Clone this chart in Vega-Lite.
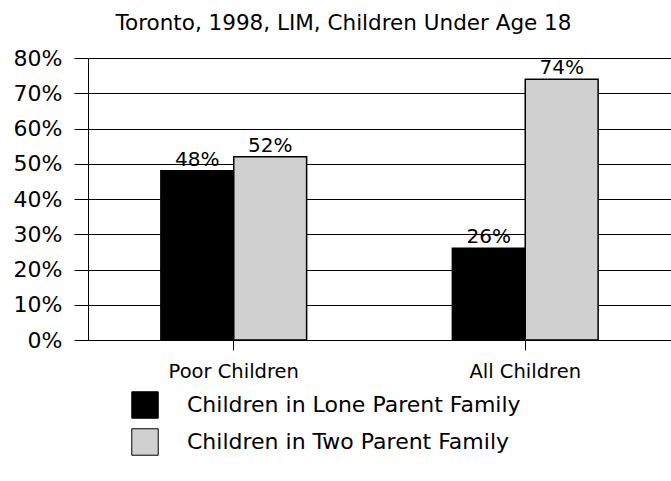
{
  "$schema": "https://vega.github.io/schema/vega-lite/v6.json",
  "autosize": {"type": "none"},
  "width": 583,
  "height": 282,
  "padding": {"left": 88, "top": 58, "right": 0, "bottom": 141},
  "background": "white",
  "title": {
    "text": "Toronto, 1998, LIM, Children Under Age 18",
    "font": "DejaVu Sans",
    "fontSize": 21.5,
    "fontWeight": "normal",
    "color": "black",
    "anchor": "middle",
    "dx": -36,
    "offset": 13
  },
  "config": {
    "view": {"stroke": null},
    "font": "DejaVu Sans"
  },
  "data": {
    "values": [
      {"group": "Poor Children", "family": "Children in Lone Parent Family", "value": 0.48},
      {"group": "Poor Children", "family": "Children in Two Parent Family", "value": 0.52},
      {"group": "All Children", "family": "Children in Lone Parent Family", "value": 0.26},
      {"group": "All Children", "family": "Children in Two Parent Family", "value": 0.74}
    ]
  },
  "encoding": {
    "x": {
      "field": "group",
      "type": "nominal",
      "sort": ["Poor Children", "All Children"],
      "scale": {"paddingInner": 0.5, "paddingOuter": 0.25},
      "axis": {
        "title": null,
        "labelAngle": 0,
        "labelFont": "DejaVu Sans",
        "labelFontSize": 19.5,
        "labelColor": "black",
        "labelPadding": 12,
        "tickColor": "black",
        "tickSize": 10,
        "domainColor": "black",
        "domain": true
      }
    },
    "xOffset": {
      "field": "family",
      "type": "nominal",
      "sort": ["Children in Lone Parent Family", "Children in Two Parent Family"]
    },
    "y": {
      "field": "value",
      "type": "quantitative",
      "scale": {"domain": [0, 0.8], "nice": false},
      "axis": {
        "title": null,
        "format": ".0%",
        "values": [0, 0.1, 0.2, 0.3, 0.4, 0.5, 0.6, 0.7, 0.8],
        "labelFont": "DejaVu Sans",
        "labelFontSize": 22,
        "labelColor": "black",
        "labelPadding": 12,
        "tickColor": "black",
        "tickSize": 14,
        "grid": true,
        "gridColor": "black",
        "gridOpacity": 1,
        "gridWidth": 1,
        "domainColor": "black"
      }
    }
  },
  "layer": [
    {
      "mark": {"type": "bar", "stroke": "black", "strokeWidth": 1.5},
      "encoding": {
        "color": {
          "field": "family",
          "type": "nominal",
          "scale": {
            "domain": ["Children in Lone Parent Family", "Children in Two Parent Family"],
            "range": ["#000000", "#d0d0d0"]
          },
          "legend": {
            "title": null,
            "orient": "none",
            "legendX": 43,
            "legendY": 333,
            "symbolType": "square",
            "symbolSize": 700,
            "symbolStrokeColor": "black",
            "symbolStrokeWidth": 1,
            "symbolOpacity": 1,
            "labelFont": "DejaVu Sans",
            "labelFontSize": 22,
            "labelColor": "black",
            "labelOffset": 28,
            "labelLimit": 500,
            "rowPadding": 5
          }
        }
      }
    },
    {
      "mark": {"type": "text", "baseline": "bottom", "dy": -1, "font": "DejaVu Sans", "fontSize": 20, "color": "black"},
      "encoding": {
        "text": {"field": "value", "type": "quantitative", "format": ".0%"}
      }
    }
  ]
}
